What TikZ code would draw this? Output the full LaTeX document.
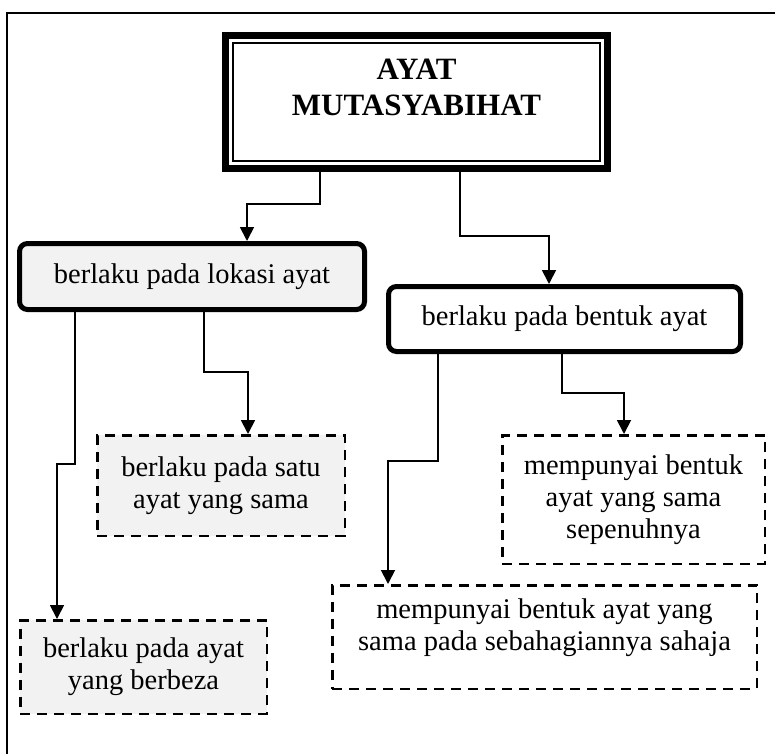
\documentclass[tikz,border=0pt]{standalone}
\usepackage{fontspec}
\setmainfont{Liberation Serif}
\usetikzlibrary{arrows.meta,calc}
\definecolor{boxgray}{HTML}{F2F2F2}
% text block raised inside its box, box size kept
\newcommand{\liftby}[2]{\raisebox{#1}[\height][\depth]{\begin{tabular}{@{}c@{}}#2\end{tabular}}}
\tikzset{
  link/.style={-{Triangle[length=14pt,width=14pt]}, line width=1.8pt},
  headbox/.style={draw, line width=7pt, inner sep=0pt, font=\fontsize{31}{36}\selectfont\bfseries},
  mainbox/.style={draw, line width=5pt, rounded corners=8pt, inner sep=0pt, align=center, font=\fontsize{28.5}{32}\selectfont},
  subbox/.style={draw, line width=2.5pt, dash pattern=on 10pt off 7pt, inner sep=0pt, align=center, font=\fontsize{28.5}{32}\selectfont},
  frame/.style={line width=2pt}
}

\begin{document}
\begin{tikzpicture}[x=1pt,y=-1pt]
  \useasboundingbox (0,0) rectangle (775,754);
  \draw[frame] (7,754) -- (7,13) -- (775,13);

  % top box
  \node[headbox, minimum width=382pt, minimum height=133pt] (title) at (416.5,102) {\liftby{12pt}{AYAT\\MUTASYABIHAT}};
  \draw[line width=2.4pt] ($(title.north west)+(11,11)$) rectangle ($(title.south east)+(-11,-11)$);

  % second level
  \node[mainbox, fill=boxgray, minimum width=345pt, minimum height=66pt] (lokasi) at (192,276.5) {berlaku pada lokasi ayat};
  \node[mainbox, fill=white, minimum width=352pt, minimum height=65pt] (bentuk) at (564.5,319) {berlaku pada bentuk ayat};

  % third level
  \node[subbox, fill=boxgray, minimum width=247.5pt, minimum height=100.5pt] (satu) at (221,485.5) {berlaku pada satu\\ayat yang sama};
  \node[subbox, fill=boxgray, minimum width=246.5pt, minimum height=93.5pt] (beza) at (143.5,667) {berlaku pada ayat\\yang berbeza};
  \node[subbox, fill=white, minimum width=262.5pt, minimum height=128.5pt] (penuh) at (633.5,499.5) {mempunyai bentuk\\ayat yang sama\\sepenuhnya};
  \node[subbox, fill=white, minimum width=424.5pt, minimum height=103.5pt] (separa) at (544.5,637) {\liftby{9pt}{mempunyai bentuk ayat yang\\sama pada sebahagiannya sahaja}};

  % connectors
  \draw[link] ([xshift=-96.5pt]title.south) -- ++(0,32) -| ([xshift=55pt]lokasi.north);
  \draw[link] ([xshift=43.5pt]title.south) -- ++(0,64) -| ([xshift=-15.5pt]bentuk.north);
  \draw[link] ([xshift=-117pt]lokasi.south) -- ++(0,152) -| ([xshift=-86.5pt]beza.north);
  \draw[link] ([xshift=12pt]lokasi.south) -- ++(0,60) -| ([xshift=27pt]satu.north);
  \draw[link] ([xshift=-126.5pt]bentuk.south) -- ++(0,107) -| ([xshift=-156.5pt]separa.north);
  \draw[link] ([xshift=-2.5pt]bentuk.south) -- ++(0,39) -| ([xshift=-9.5pt]penuh.north);
\end{tikzpicture}
\end{document}
